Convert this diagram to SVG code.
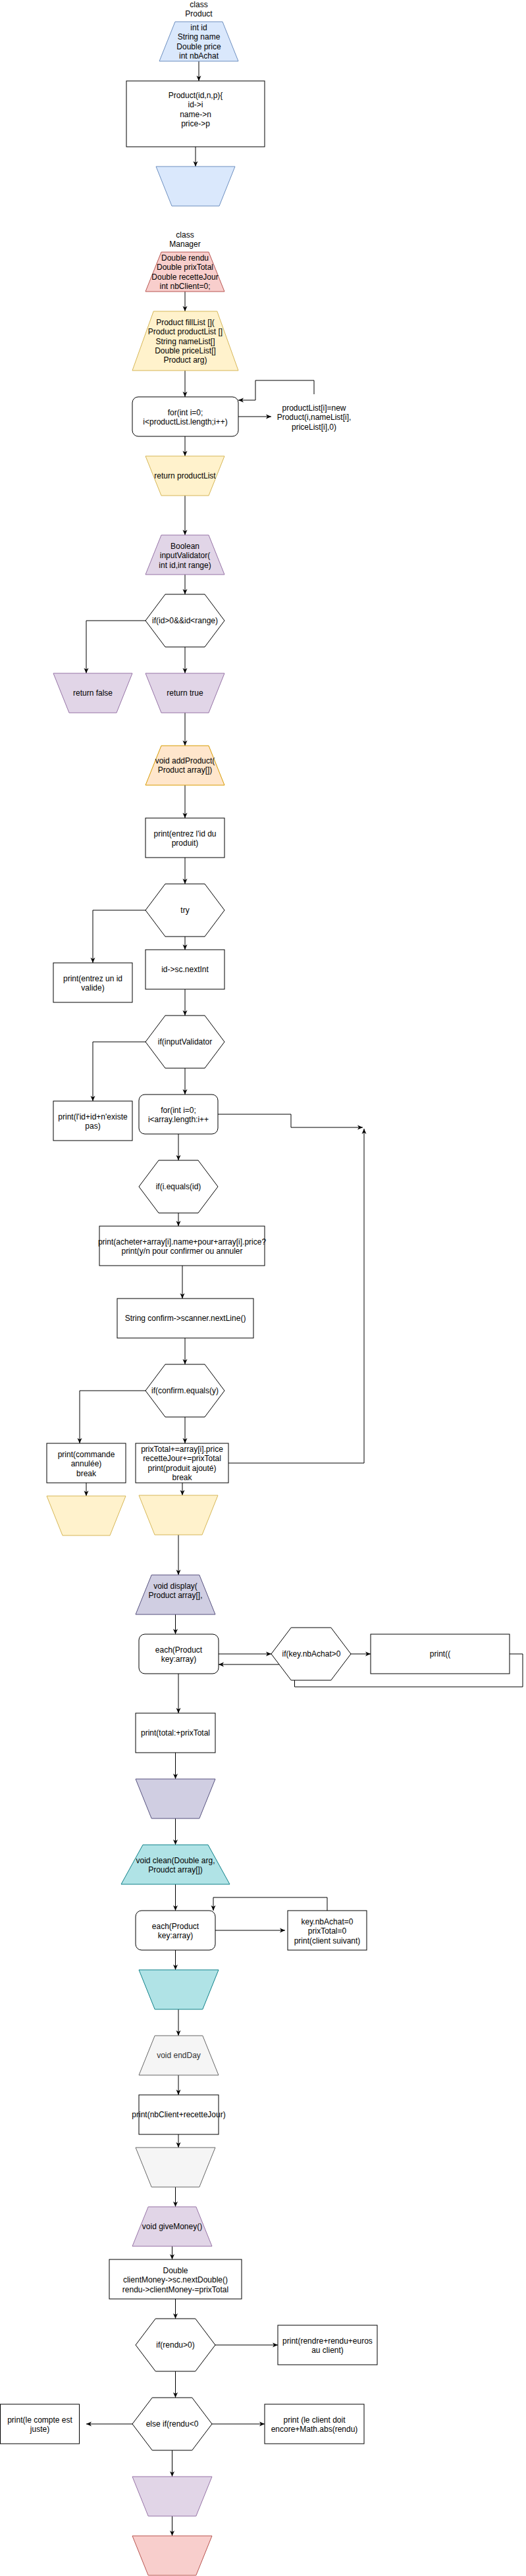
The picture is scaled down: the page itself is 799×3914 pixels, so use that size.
<svg xmlns="http://www.w3.org/2000/svg" width="799" height="3914" viewBox="0 0 799 3914">
<defs>
<marker id="arr" markerUnits="userSpaceOnUse" markerWidth="8" markerHeight="8" viewBox="0 0 8 8" refX="8" refY="4" orient="auto">
<path d="M0,0.5 L8,4 L0,7.5 L2.2,4 Z" fill="#000"/>
</marker>
<style>
.t{font-family:"Liberation Sans",Arial,Helvetica,sans-serif;font-size:12px;text-anchor:middle;fill:#000}
.g{fill:#333333}
.box{fill:#ffffff;stroke:#000;stroke-width:1}
.blue{fill:#dae8fc;stroke:#6c8ebf;stroke-width:1}
.red{fill:#f8cecc;stroke:#b85450;stroke-width:1}
.yel{fill:#fff2cc;stroke:#d6b656;stroke-width:1}
.pur{fill:#e1d5e7;stroke:#9673a6;stroke-width:1}
.ora{fill:#ffe6cc;stroke:#d79b00;stroke-width:1}
.dis{fill:#d0cee2;stroke:#56517e;stroke-width:1}
.teal{fill:#b0e3e6;stroke:#0e8088;stroke-width:1}
.gray{fill:#f5f5f5;stroke:#666666;stroke-width:1}
.e{fill:none;stroke:#000;stroke-width:1;marker-end:url(#arr)}
.l{fill:none;stroke:#000;stroke-width:1}
</style>
</defs>
<rect width="799" height="3914" fill="#ffffff"/>

<g id="connectors">
<path class="e" d="M302,93 V123"/>
<path class="e" d="M297,223 V253"/>
<path class="e" d="M281,443 V473"/>
<path class="e" d="M281,563 V603"/>
<path class="e" d="M362,633 H412"/>
<path class="e" d="M477,599 V578 H388 V608 H362"/>
<path class="e" d="M281,663 V693"/>
<path class="e" d="M281,753 V813"/>
<path class="e" d="M281,873 V903"/>
<path class="e" d="M221,943 H131 V1023"/>
<path class="e" d="M281,983 V1023"/>
<path class="e" d="M281,1083 V1133"/>
<path class="e" d="M281,1193 V1243"/>
<path class="e" d="M281,1303 V1343"/>
<path class="e" d="M221,1383 H141 V1463"/>
<path class="e" d="M281,1423 V1443"/>
<path class="e" d="M281,1503 V1543"/>
<path class="e" d="M221,1583 H141 V1673"/>
<path class="e" d="M281,1623 V1663"/>
<path class="e" d="M331,1693 H442 V1713 H551"/>
<path class="e" d="M271,1723 V1763"/>
<path class="e" d="M271,1843 V1863"/>
<path class="e" d="M277,1923 V1973"/>
<path class="e" d="M281,2033 V2073"/>
<path class="e" d="M221,2113 H121 V2193"/>
<path class="e" d="M281,2153 V2193"/>
<path class="e" d="M347,2223 H553 V1715"/>
<path class="e" d="M131,2253 V2273"/>
<path class="e" d="M277,2253 V2272"/>
<path class="e" d="M271,2332 V2393"/>
<path class="e" d="M266.5,2453 V2483"/>
<path class="e" d="M332,2513 H412"/>
<path class="e" d="M533,2513 H563"/>
<path class="e" d="M774,2513 H794 V2563 H447.5 V2529 H332"/>
<path class="e" d="M271,2543 V2603"/>
<path class="e" d="M266.5,2663 V2703"/>
<path class="e" d="M266.5,2763 V2803"/>
<path class="e" d="M266.5,2863 V2903"/>
<path class="e" d="M327,2933 H433"/>
<path class="e" d="M497,2903 V2883 H324 V2903"/>
<path class="e" d="M266.5,2963 V2993"/>
<path class="e" d="M271,3053 V3093"/>
<path class="e" d="M271,3153 V3183"/>
<path class="e" d="M271,3243 V3263"/>
<path class="e" d="M266.5,3323 V3353"/>
<path class="e" d="M261.5,3413 V3433"/>
<path class="e" d="M266.5,3493 V3523"/>
<path class="e" d="M327,3563 H422"/>
<path class="e" d="M266.5,3603 V3643"/>
<path class="e" d="M201,3683 H131"/>
<path class="e" d="M322,3683 H402"/>
<path class="e" d="M261.5,3723 V3763"/>
<path class="e" d="M261.5,3823 V3853"/>
</g>

<g id="lbl-product">
<text class="t" x="302" y="11">class</text>
<text class="t" x="302" y="25">Product</text>
</g>
<g id="product-fields">
<polygon class="blue" points="266,33 338,33 362,93 242,93"/>
<text class="t" x="302" y="46">int id</text>
<text class="t" x="302" y="60">String name</text>
<text class="t" x="302" y="75">Double price</text>
<text class="t" x="302" y="89">int nbAchat</text>
</g>
<g id="product-ctor">
<rect class="box" x="192" y="123" width="210" height="100"/>
<text class="t" x="297" y="149">Product(id,n,p){</text>
<text class="t" x="297" y="163">id-&gt;i</text>
<text class="t" x="297" y="178">name-&gt;n</text>
<text class="t" x="297" y="192">price-&gt;p</text>
</g>
<g id="product-end">
<polygon class="blue" points="237,253 357,253 333,313 261,313"/>
</g>

<g id="lbl-manager">
<text class="t" x="281" y="361">class</text>
<text class="t" x="281" y="375">Manager</text>
</g>
<g id="manager-fields">
<polygon class="red" points="245,383 317,383 341,443 221,443"/>
<text class="t" x="281" y="396">Double rendu</text>
<text class="t" x="281" y="410">Double prixTotal</text>
<text class="t" x="281" y="425">Double recetteJour</text>
<text class="t" x="281" y="439">int nbClient=0;</text>
</g>
<g id="filllist">
<polygon class="yel" points="233.2,473 329.8,473 362,563 201,563"/>
<text class="t" x="281.5" y="494">Product fillList [](</text>
<text class="t" x="281.5" y="508">Product productList []</text>
<text class="t" x="281.5" y="523">String nameList[]</text>
<text class="t" x="281.5" y="537">Double priceList[]</text>
<text class="t" x="281.5" y="551">Product arg)</text>
</g>
<g id="for1">
<rect class="box" x="201" y="603" width="161" height="60" rx="9"/>
<text class="t" x="281.5" y="631">for(int i=0;</text>
<text class="t" x="281.5" y="645">i&lt;productList.length;i++)</text>
</g>
<g id="newproduct">
<text class="t" x="477" y="624">productList[i]=new</text>
<text class="t" x="477" y="638">Product(i,nameList[i],</text>
<text class="t" x="477" y="653">priceList[i],0)</text>
</g>
<g id="return-list">
<polygon class="yel" points="221,693 341,693 317,753 245,753"/>
<text class="t" x="281" y="727">return productList</text>
</g>
<g id="validator">
<polygon class="pur" points="245,813 317,813 341,873 221,873"/>
<text class="t" x="281" y="833.5">Boolean</text>
<text class="t" x="281" y="848">inputValidator(</text>
<text class="t" x="281" y="862.5">int id,int range)</text>
</g>
<g id="if-range">
<polygon class="box" points="251,903 311,903 341,943 311,983 251,983 221,943"/>
<text class="t" x="281" y="947">if(id&gt;0&amp;&amp;id&lt;range)</text>
</g>
<g id="return-false">
<polygon class="pur" points="81,1023 201,1023 177,1083 105,1083"/>
<text class="t" x="141" y="1057">return false</text>
</g>
<g id="return-true">
<polygon class="pur" points="221,1023 341,1023 317,1083 245,1083"/>
<text class="t" x="281" y="1057">return true</text>
</g>
<g id="addproduct">
<polygon class="ora" points="245,1133 317,1133 341,1193 221,1193"/>
<text class="t" x="281" y="1160">void addProduct(</text>
<text class="t" x="281" y="1174">Product array[])</text>
</g>
<g id="print-entrez">
<rect class="box" x="221" y="1243" width="120" height="60"/>
<text class="t" x="281" y="1270.5">print(entrez l'id du</text>
<text class="t" x="281" y="1285">produit)</text>
</g>
<g id="try">
<polygon class="box" points="251,1343 311,1343 341,1383 311,1423 251,1423 221,1383"/>
<text class="t" x="281" y="1387">try</text>
</g>
<g id="print-valide">
<rect class="box" x="81" y="1463" width="120" height="60"/>
<text class="t" x="141" y="1490.5">print(entrez un id</text>
<text class="t" x="141" y="1505">valide)</text>
</g>
<g id="nextint">
<rect class="box" x="221" y="1443" width="120" height="60"/>
<text class="t" x="281" y="1477">id-&gt;sc.nextInt</text>
</g>
<g id="if-input">
<polygon class="box" points="251,1543 311,1543 341,1583 311,1623 251,1623 221,1583"/>
<text class="t" x="281" y="1587">if(inputValidator</text>
</g>
<g id="print-existe">
<rect class="box" x="81" y="1673" width="120" height="60"/>
<text class="t" x="141" y="1700.5">print(l'id+id+n'existe</text>
<text class="t" x="141" y="1715">pas)</text>
</g>
<g id="for2">
<rect class="box" x="211" y="1663" width="120" height="60" rx="9"/>
<text class="t" x="271" y="1690.5">for(int i=0;</text>
<text class="t" x="271" y="1705">i&lt;array.length:i++</text>
</g>
<g id="if-equals">
<polygon class="box" points="241,1763 301,1763 331,1803 301,1843 241,1843 211,1803"/>
<text class="t" x="271" y="1807">if(i.equals(id)</text>
</g>
<g id="print-acheter">
<rect class="box" x="151" y="1863" width="251" height="60"/>
<text class="t" x="276.5" y="1890.5">print(acheter+array[i].name+pour+array[i].price?</text>
<text class="t" x="276.5" y="1905">print(y/n pour confirmer ou annuler</text>
</g>
<g id="confirm">
<rect class="box" x="178" y="1973" width="207" height="60"/>
<text class="t" x="281.5" y="2007">String confirm-&gt;scanner.nextLine()</text>
</g>
<g id="if-confirm">
<polygon class="box" points="251,2073 311,2073 341,2113 311,2153 251,2153 221,2113"/>
<text class="t" x="281" y="2117">if(confirm.equals(y)</text>
</g>
<g id="annulee">
<rect class="box" x="71" y="2193" width="120" height="60"/>
<text class="t" x="131" y="2213.5">print(commande</text>
<text class="t" x="131" y="2228">annulée)</text>
<text class="t" x="131" y="2242.5">break</text>
</g>
<g id="ajoute">
<rect class="box" x="206" y="2193" width="141" height="60"/>
<text class="t" x="276.5" y="2205.5">prixTotal+=array[i].price</text>
<text class="t" x="276.5" y="2220">recetteJour+=prixTotal</text>
<text class="t" x="276.5" y="2234.5">print(produit ajouté)</text>
<text class="t" x="276.5" y="2249">break</text>
</g>
<g id="end-annulee">
<polygon class="yel" points="71,2273 191,2273 167,2333 95,2333"/>
</g>
<g id="end-ajoute">
<polygon class="yel" points="211,2272 331,2272 307,2332 235,2332"/>
</g>
<g id="display">
<polygon class="dis" points="230.2,2393 302.8,2393 327,2453 206,2453"/>
<text class="t" x="266.5" y="2413.5">void display(</text>
<text class="t" x="266.5" y="2428">Product array[],</text>
</g>
<g id="each1">
<rect class="box" x="211" y="2483" width="121" height="60" rx="9"/>
<text class="t" x="271.5" y="2510.5">each(Product</text>
<text class="t" x="271.5" y="2525">key:array)</text>
</g>
<g id="if-nbachat">
<polygon class="box" points="442.25,2473 502.75,2473 533,2513 502.75,2553 442.25,2553 412,2513"/>
<text class="t" x="473" y="2517">if(key.nbAchat&gt;0</text>
</g>
<g id="print-paren">
<rect class="box" x="563" y="2483" width="211" height="60"/>
<text class="t" x="668.5" y="2517">print((</text>
</g>
<g id="print-total">
<rect class="box" x="206" y="2603" width="121" height="60"/>
<text class="t" x="266.5" y="2637">print(total:+prixTotal</text>
</g>
<g id="end-display">
<polygon class="dis" points="206,2703 327,2703 302.8,2763 230.2,2763"/>
</g>
<g id="clean">
<polygon class="teal" points="217,2803 316,2803 349,2863 184,2863"/>
<text class="t" x="266.5" y="2830.5">void clean(Double arg,</text>
<text class="t" x="266.5" y="2845">Proudct array[])</text>
</g>
<g id="each2">
<rect class="box" x="206" y="2903" width="121" height="60" rx="9"/>
<text class="t" x="266.5" y="2930.5">each(Product</text>
<text class="t" x="266.5" y="2945">key:array)</text>
</g>
<g id="reset">
<rect class="box" x="437" y="2903" width="120" height="60"/>
<text class="t" x="497" y="2923.5">key.nbAchat=0</text>
<text class="t" x="497" y="2938">prixTotal=0</text>
<text class="t" x="497" y="2952.5">print(client suivant)</text>
</g>
<g id="end-clean">
<polygon class="teal" points="211,2993 332,2993 307.8,3053 235.2,3053"/>
</g>
<g id="endday">
<polygon class="gray" points="235.2,3093 307.8,3093 332,3153 211,3153"/>
<text class="t g" x="271.5" y="3127">void endDay</text>
</g>
<g id="print-nbclient">
<rect class="box" x="211" y="3183" width="121" height="60"/>
<text class="t" x="271.5" y="3217">print(nbClient+recetteJour)</text>
</g>
<g id="end-endday">
<polygon class="gray" points="206,3263 327,3263 302.8,3323 230.2,3323"/>
</g>
<g id="givemoney">
<polygon class="pur" points="225.2,3353 297.8,3353 322,3413 201,3413"/>
<text class="t" x="261.5" y="3387">void giveMoney()</text>
</g>
<g id="clientmoney">
<rect class="box" x="166" y="3433" width="201" height="60"/>
<text class="t" x="266.5" y="3453.5">Double</text>
<text class="t" x="266.5" y="3468">clientMoney-&gt;sc.nextDouble()</text>
<text class="t" x="266.5" y="3482.5">rendu-&gt;clientMoney-=prixTotal</text>
</g>
<g id="if-rendu-pos">
<polygon class="box" points="236.25,3523 296.75,3523 327,3563 296.75,3603 236.25,3603 206,3563"/>
<text class="t" x="266.5" y="3567">if(rendu&gt;0)</text>
</g>
<g id="print-rendre">
<rect class="box" x="422" y="3533" width="151" height="60"/>
<text class="t" x="497.5" y="3560.5">print(rendre+rendu+euros</text>
<text class="t" x="497.5" y="3575">au client)</text>
</g>
<g id="if-rendu-neg">
<polygon class="box" points="231.25,3643 291.75,3643 322,3683 291.75,3723 231.25,3723 201,3683"/>
<text class="t" x="261.5" y="3687">else if(rendu&lt;0</text>
</g>
<g id="print-juste">
<rect class="box" x="0.5" y="3653" width="120" height="60"/>
<text class="t" x="60.5" y="3680.5">print(le compte est</text>
<text class="t" x="60.5" y="3695">juste)</text>
</g>
<g id="print-doit">
<rect class="box" x="402" y="3653" width="151" height="60"/>
<text class="t" x="477.5" y="3680.5">print (le client doit</text>
<text class="t" x="477.5" y="3695">encore+Math.abs(rendu)</text>
</g>
<g id="end-givemoney">
<polygon class="pur" points="201,3763 322,3763 297.8,3823 225.2,3823"/>
</g>
<g id="end-manager">
<polygon class="red" points="201,3853 322,3853 297.8,3913 225.2,3913"/>
</g>
</svg>
